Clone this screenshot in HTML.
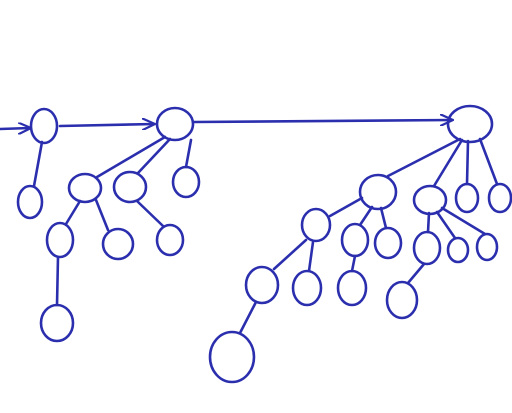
<!DOCTYPE html>
<html><head><meta charset="utf-8"><style>
html,body{margin:0;padding:0;background:#fff;}
svg{display:block;}
</style></head><body>
<svg width="512" height="413" viewBox="0 0 512 413">
<defs><marker id="ah" markerWidth="14" markerHeight="12" refX="12" refY="6" orient="auto" markerUnits="userSpaceOnUse"><path d="M0,0 L13,6 L0,12" fill="none" stroke="#2b2fae" stroke-width="2.2"/></marker></defs>
<g fill="none" stroke="#2b2fae" stroke-width="2.6" stroke-linecap="round">
<g>
<line x1="0" y1="129" x2="30" y2="128" marker-end="url(#ah)"/>
<line x1="60" y1="126" x2="154" y2="124" marker-end="url(#ah)"/>
<line x1="194" y1="122" x2="452" y2="120" marker-end="url(#ah)"/>
<line x1="42" y1="142" x2="34" y2="186"/>
<line x1="165" y1="137" x2="97" y2="177"/>
<line x1="170" y1="139" x2="138" y2="173"/>
<line x1="191" y1="140" x2="186" y2="167"/>
<line x1="80" y1="201" x2="66" y2="224"/>
<line x1="96" y1="200" x2="108" y2="230"/>
<line x1="137" y1="201" x2="163" y2="226"/>
<line x1="58" y1="257" x2="57" y2="305"/>
<line x1="460" y1="139" x2="388" y2="176"/>
<line x1="462" y1="140" x2="434" y2="186"/>
<line x1="468" y1="141" x2="467" y2="184"/>
<line x1="480" y1="139" x2="497" y2="184"/>
<line x1="362" y1="198" x2="330" y2="216"/>
<line x1="306" y1="240" x2="274" y2="269"/>
<line x1="313" y1="242" x2="309" y2="271"/>
<line x1="256" y1="302" x2="240" y2="333"/>
<line x1="372" y1="207" x2="360" y2="225"/>
<line x1="381" y1="208" x2="386" y2="228"/>
<line x1="355" y1="256" x2="352" y2="271"/>
<line x1="429" y1="213" x2="428" y2="232"/>
<line x1="437" y1="212" x2="455" y2="238"/>
<line x1="442" y1="208" x2="485" y2="234"/>
<line x1="424" y1="264" x2="408" y2="283"/>
</g>
<g>
<ellipse cx="44" cy="126" rx="13" ry="17"/>
<ellipse cx="175" cy="124" rx="18" ry="16"/>
<ellipse cx="470" cy="124" rx="22" ry="18"/>
<ellipse cx="30" cy="202" rx="12" ry="16"/>
<ellipse cx="85" cy="188" rx="16" ry="14"/>
<ellipse cx="130" cy="187" rx="16" ry="15"/>
<ellipse cx="186" cy="182" rx="13" ry="15"/>
<ellipse cx="60" cy="240" rx="13" ry="17"/>
<ellipse cx="118" cy="244" rx="15" ry="15"/>
<ellipse cx="170" cy="240" rx="13" ry="15"/>
<ellipse cx="57" cy="323" rx="16" ry="18"/>
<ellipse cx="378" cy="192" rx="18" ry="17"/>
<ellipse cx="316" cy="225" rx="14" ry="16"/>
<ellipse cx="262" cy="285" rx="16" ry="18"/>
<ellipse cx="307" cy="288" rx="14" ry="17"/>
<ellipse cx="232" cy="357" rx="22" ry="25"/>
<ellipse cx="355" cy="240" rx="13" ry="16"/>
<ellipse cx="388" cy="243" rx="13" ry="15"/>
<ellipse cx="352" cy="288" rx="14" ry="17"/>
<ellipse cx="430" cy="200" rx="16" ry="14"/>
<ellipse cx="467" cy="198" rx="11" ry="14"/>
<ellipse cx="500" cy="198" rx="11" ry="14"/>
<ellipse cx="427" cy="248" rx="13" ry="16"/>
<ellipse cx="458" cy="250" rx="10" ry="12"/>
<ellipse cx="487" cy="247" rx="10" ry="13"/>
<ellipse cx="402" cy="300" rx="15" ry="18"/>
</g>
</g>
</svg>
</body></html>
